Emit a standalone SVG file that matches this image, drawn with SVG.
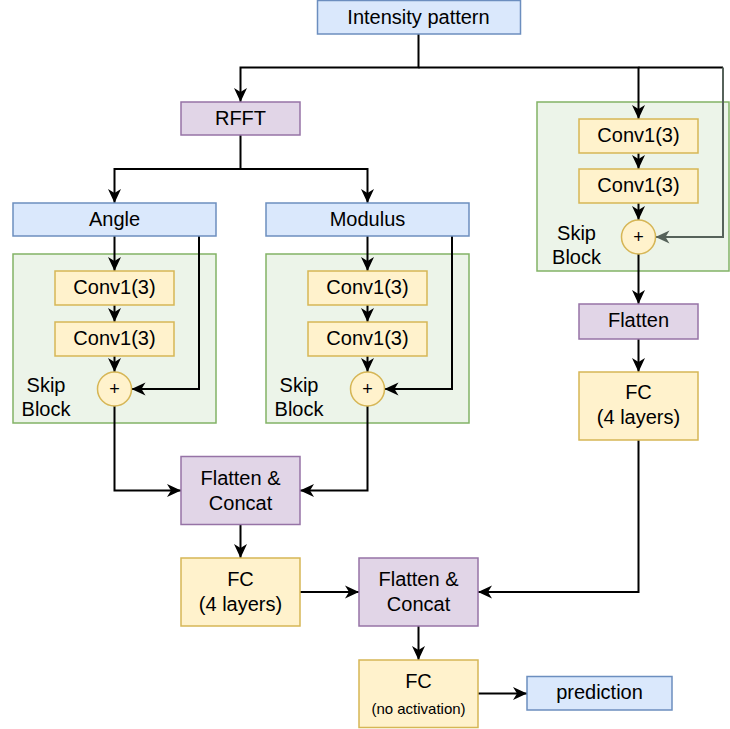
<svg xmlns="http://www.w3.org/2000/svg" width="730" height="729" viewBox="0 0 730 729">
<defs>
<marker id="arr" markerUnits="userSpaceOnUse" markerWidth="15" markerHeight="14" refX="14" refY="7" orient="auto"><path d="M0,0.5 L14,7 L0,13.5 L4,7 Z" fill="#000"/></marker>
<marker id="arrg" markerUnits="userSpaceOnUse" markerWidth="15" markerHeight="14" refX="14" refY="7" orient="auto"><path d="M0,0.5 L14,7 L0,13.5 L4,7 Z" fill="#56625a"/></marker>
<style>
text{font-family:"Liberation Sans",Arial,sans-serif;font-size:20px;fill:#000;text-anchor:middle}
.sm{font-size:15px}
.pl{font-size:18px}
.blue{fill:#dae8fc;stroke:#6c8ebf;stroke-width:1.5}
.pur{fill:#e1d5e7;stroke:#9673a6;stroke-width:1.5}
.yel{fill:#fff2cc;stroke:#d6b656;stroke-width:1.5}
.grn{fill:#ecf4e9;stroke:#82b366;stroke-width:1.5}
.c path{fill:none;stroke:#000;stroke-width:2}
.c path.g{stroke:#56625a}
</style>
</defs>
<rect width="730" height="729" fill="#fff"/>
<g id="skip-angle"><rect class="grn" x="13" y="254" width="203" height="169"/><text x="46" y="392">Skip</text><text x="46" y="416">Block</text></g>
<g id="skip-modulus"><rect class="grn" x="266" y="254" width="203" height="169"/><text x="299" y="392">Skip</text><text x="299" y="416">Block</text></g>
<g id="skip-right"><rect class="grn" x="537" y="102" width="192" height="169"/><text x="576.5" y="240">Skip</text><text x="576.5" y="264">Block</text></g>
<g class="c" id="connectors">
<path d="M418.5,34 V67.5 H240.5 V102" marker-end="url(#arr)"/>
<path d="M418.5,67.5 H638.5 V119" marker-end="url(#arr)"/>
<path d="M638.5,67.5 H723"/>
<path class="g" d="M723,67.5 V237 H655.5" marker-end="url(#arrg)"/>
<path d="M240.5,135 V169 H114.5 V203" marker-end="url(#arr)"/>
<path d="M240.5,169 H367.5 V203" marker-end="url(#arr)"/>
<path d="M114.5,236 V271" marker-end="url(#arr)"/>
<path d="M114.5,305 V322" marker-end="url(#arr)"/>
<path d="M114.5,356 V372" marker-end="url(#arr)"/>
<path d="M199,236 V389 H131.5" marker-end="url(#arr)"/>
<path d="M114.5,406 V490.5 H181" marker-end="url(#arr)"/>
<path d="M367.5,236 V271" marker-end="url(#arr)"/>
<path d="M367.5,305 V322" marker-end="url(#arr)"/>
<path d="M367.5,356 V372" marker-end="url(#arr)"/>
<path d="M452,236 V389 H384.5" marker-end="url(#arr)"/>
<path d="M367.5,406 V490.5 H300" marker-end="url(#arr)"/>
<path d="M638.5,153 V169" marker-end="url(#arr)"/>
<path d="M638.5,203 V220" marker-end="url(#arr)"/>
<path d="M638.5,254 V304" marker-end="url(#arr)"/>
<path d="M638.5,339 V372" marker-end="url(#arr)"/>
<path d="M638.5,440 V592 H478" marker-end="url(#arr)"/>
<path d="M240.5,525 V558" marker-end="url(#arr)"/>
<path d="M300,592 H359" marker-end="url(#arr)"/>
<path d="M418.5,626 V660" marker-end="url(#arr)"/>
<path d="M478,693.5 H527" marker-end="url(#arr)"/>
</g>
<g id="intensity"><rect class="blue" x="317.5" y="0.5" width="203" height="33.5"/><text x="418.5" y="24">Intensity pattern</text></g>
<g id="rfft"><rect class="pur" x="181" y="102" width="119" height="33"/><text x="240.5" y="125">RFFT</text></g>
<g id="angle"><rect class="blue" x="13" y="203" width="203" height="33"/><text x="114.5" y="226">Angle</text></g>
<g id="modulus"><rect class="blue" x="266" y="203" width="203" height="33"/><text x="367.5" y="226">Modulus</text></g>
<g id="conv-a1"><rect class="yel" x="55" y="271" width="119" height="34"/><text x="114.5" y="294">Conv1(3)</text></g>
<g id="conv-a2"><rect class="yel" x="55" y="322" width="119" height="34"/><text x="114.5" y="345">Conv1(3)</text></g>
<g id="add-a"><circle class="yel" cx="114.5" cy="389" r="17"/><text class="pl" x="114.5" y="395">+</text></g>
<g id="conv-m1"><rect class="yel" x="308" y="271" width="119" height="34"/><text x="367.5" y="294">Conv1(3)</text></g>
<g id="conv-m2"><rect class="yel" x="308" y="322" width="119" height="34"/><text x="367.5" y="345">Conv1(3)</text></g>
<g id="add-m"><circle class="yel" cx="367.5" cy="389" r="17"/><text class="pl" x="367.5" y="395">+</text></g>
<g id="conv-r1"><rect class="yel" x="579" y="119" width="119" height="34"/><text x="638.5" y="142">Conv1(3)</text></g>
<g id="conv-r2"><rect class="yel" x="579" y="169" width="119" height="34"/><text x="638.5" y="192">Conv1(3)</text></g>
<g id="add-r"><circle class="yel" cx="638.5" cy="237" r="17"/><text class="pl" x="638.5" y="243">+</text></g>
<g id="flatten-r"><rect class="pur" x="579" y="304" width="119" height="35"/><text x="638.5" y="327">Flatten</text></g>
<g id="fc-r"><rect class="yel" x="579" y="372" width="119" height="68"/><text x="638.5" y="399">FC</text><text x="638.5" y="424">(4 layers)</text></g>
<g id="flatconcat1"><rect class="pur" x="181" y="456.5" width="119" height="68"/><text x="240.5" y="485">Flatten &amp;</text><text x="240.5" y="510">Concat</text></g>
<g id="fc1"><rect class="yel" x="181" y="558" width="119" height="68"/><text x="240.5" y="586">FC</text><text x="240.5" y="611">(4 layers)</text></g>
<g id="flatconcat2"><rect class="pur" x="359" y="558" width="119" height="68"/><text x="418.5" y="586">Flatten &amp;</text><text x="418.5" y="611">Concat</text></g>
<g id="fc2"><rect class="yel" x="359" y="660" width="119" height="67.5"/><text x="418.5" y="688">FC</text><text class="sm" x="418.5" y="714">(no activation)</text></g>
<g id="prediction"><rect class="blue" x="527" y="676.5" width="145" height="33.5"/><text x="599.5" y="699">prediction</text></g>
</svg>
